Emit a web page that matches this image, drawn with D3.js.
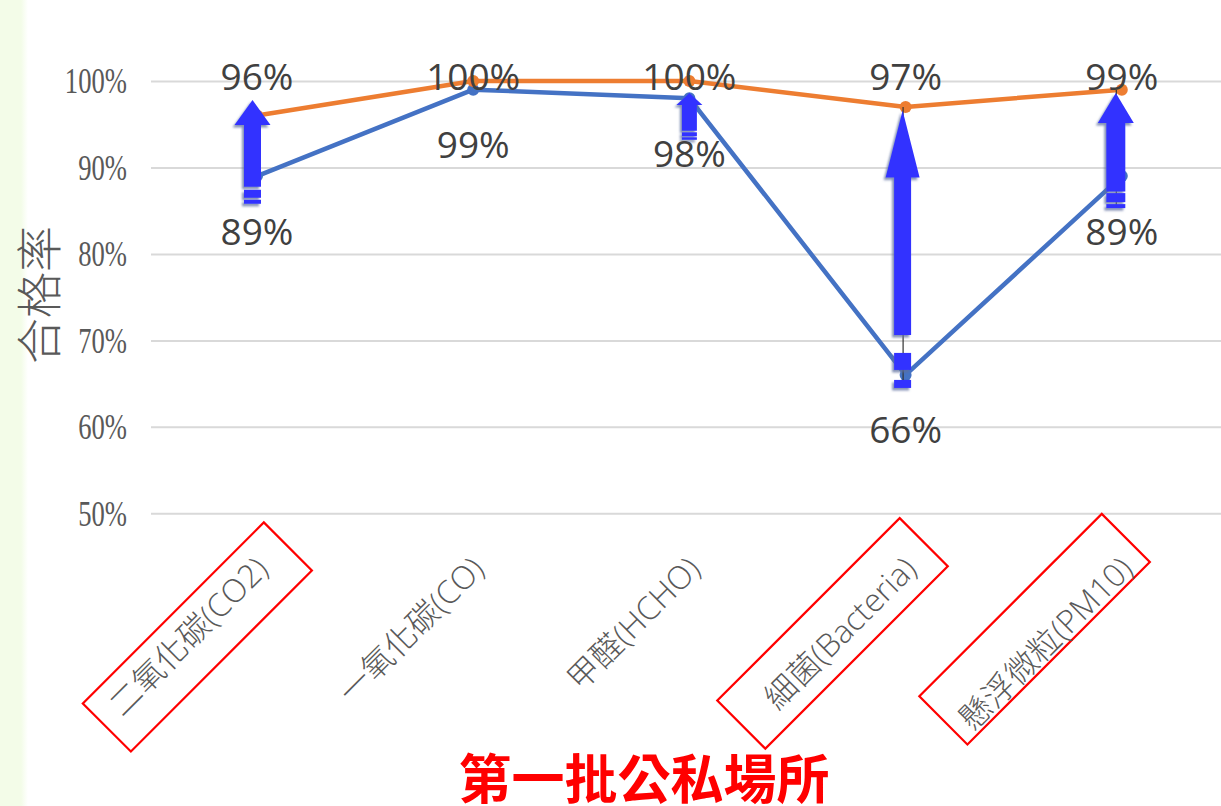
<!DOCTYPE html>
<html>
<head>
<meta charset="utf-8">
<script src="https://cdn.jsdelivr.net/npm/d3@7"></script>
<style>
  html, body { margin: 0; padding: 0; background: #ffffff; }
  svg { display: block; }
</style>
</head>
<body>
<svg id="chart" width="1221" height="806"></svg>
<script>
// ---------- data ----------
const categories = ["二氧化碳(CO2)", "一氧化碳(CO)", "甲醛(HCHO)", "細菌(Bacteria)", "懸浮微粒(PM10)"];
const firstValues  = [0.89, 0.99, 0.98, 0.66, 0.89];   // blue series
const secondValues = [0.96, 1.00, 1.00, 0.97, 0.99];   // orange series
const yTicks = [0.5, 0.6, 0.7, 0.8, 0.9, 1.0];
const highlighted = ["二氧化碳(CO2)", "細菌(Bacteria)", "懸浮微粒(PM10)"];
const yTitle = "合格率";
const chartTitle = "第一批公私場所";

// improvement arrows (value units: tip and tail end)
const arrowCategories = ["二氧化碳(CO2)", "甲醛(HCHO)", "細菌(Bacteria)", "懸浮微粒(PM10)"];
const arrowTip  = [0.978, 0.986, 0.966, 0.986];
const arrowTail = [0.858, 0.932, 0.645, 0.853];

// ---------- styles ----------
const W = 1221, H = 806;
const blue = "#4472c4", orange = "#ed7d31", arrowBlue = "#3333ff";
const arrowStyle = [
  {dx: -4.5, headH: 25, headW: 36, shaftW: 17, tail: [3, 8, 2, 4], guide: false},
  {dx: 0,    headH: 12, headW: 26, shaftW: 15, tail: [1.5, 4, 1, 2.5], guide: false},
  {dx: -3,   headH: 67, headW: 34, shaftW: 17, tail: [18, 17, 10, 8], guide: true},
  {dx: -6,   headH: 30, headW: 36, shaftW: 19, tail: [1.5, 9, 2, 4], guide: true}
];
// red highlight boxes, in the rotated label frame: [start, end, centre offset]
const boxStyle = [[-226, 30, 8], [-234, 24, -4], [-241, 17, -17]];
const boxHeight = 68;

const svg = d3.select("#chart");
const defs = svg.append("defs");

const grad = defs.append("linearGradient").attr("id", "leftStrip")
  .attr("x1", 0).attr("x2", 1).attr("y1", 0).attr("y2", 0);
grad.append("stop").attr("offset", "0%").attr("stop-color", "#f3fce8");
grad.append("stop").attr("offset", "75%").attr("stop-color", "#f3fce8");
grad.append("stop").attr("offset", "100%").attr("stop-color", "#ffffff");

const shadow = defs.append("filter").attr("id", "arrowShadow")
  .attr("x", "-50%").attr("y", "-20%").attr("width", "200%").attr("height", "140%");
shadow.append("feDropShadow").attr("dx", -2).attr("dy", 2.5).attr("stdDeviation", 1.3)
  .attr("flood-color", "#5b6d9e").attr("flood-opacity", 0.75);

svg.append("rect").attr("x", 0).attr("y", 0).attr("width", W).attr("height", H).attr("fill", "#ffffff");
svg.append("rect").attr("x", 0).attr("y", 0).attr("width", 28).attr("height", H).attr("fill", "url(#leftStrip)");

// ---------- scales ----------
const x = d3.scaleBand().domain(categories).range([148.9, 1229.9]).paddingInner(0).paddingOuter(0);
const cx = d => x(d) + x.bandwidth() / 2;
const y = d3.scaleLinear().domain([0.5, 1.0]).range([513.3, 81]);
const gridLeft = 151, gridRight = 1230;

// ---------- grid + y axis ----------
const yAxis = d3.axisLeft(y).tickValues(yTicks).tickFormat(d3.format(".0%")).tickSize(0).tickPadding(0);
const gAxis = svg.append("g").attr("transform", `translate(${gridLeft},0)`).call(yAxis);
gAxis.select(".domain").remove();
gAxis.selectAll(".tick line").remove();
gAxis.selectAll(".tick")
  .insert("line", "text")
  .attr("x1", 0).attr("x2", gridRight - gridLeft)
  .attr("stroke", "#d9d9d9").attr("stroke-width", 2);
gAxis.selectAll(".tick text")
  .attr("x", 0).attr("dy", null)
  .attr("transform", "translate(-24,0) scale(0.74,1)")
  .attr("text-anchor", "end")
  .attr("dominant-baseline", "central")
  .attr("font-family", "'Liberation Serif', 'DejaVu Serif', serif")
  .attr("font-size", 36)
  .attr("fill", "#595959");

// y title
svg.append("text")
  .attr("transform", "translate(36,295) rotate(-90)")
  .attr("text-anchor", "middle").attr("dominant-baseline", "central")
  .attr("font-family", "'Noto Sans CJK TC', 'Noto Sans', sans-serif")
  .attr("font-weight", 300)
  .attr("font-size", 46).attr("fill", "#595959")
  .text(yTitle);

// ---------- x labels ----------
const xl = svg.append("g");
categories.forEach(c => {
  const g = xl.append("g").attr("transform", `translate(${cx(c) + 4},562) rotate(-45)`);
  g.append("text")
    .attr("text-anchor", "end").attr("dominant-baseline", "central")
    .attr("font-family", "'Open Sans', 'Noto Sans CJK TC', sans-serif")
    .attr("font-weight", 300)
    .attr("font-size", 32).attr("fill", "#595959")
    .text(c);
  const hi = highlighted.indexOf(c);
  if (hi >= 0) {
    const [s, e, off] = boxStyle[hi];
    g.insert("rect", "text")
      .attr("x", s).attr("y", off - boxHeight / 2)
      .attr("width", e - s).attr("height", boxHeight)
      .attr("fill", "none").attr("stroke", "#ff0000").attr("stroke-width", 2.2);
  }
});

// ---------- lines ----------
function drawSeries(vals, color) {
  const pts = categories.map((c, i) => [cx(c), y(vals[i])]);
  svg.append("path").attr("d", d3.line()(pts))
    .attr("fill", "none").attr("stroke", color).attr("stroke-width", 4.5)
    .attr("stroke-linejoin", "round").attr("stroke-linecap", "round");
  svg.append("g").selectAll("circle").data(pts).join("circle")
    .attr("cx", d => d[0]).attr("cy", d => d[1]).attr("r", 6).attr("fill", color);
}
drawSeries(firstValues, blue);
drawSeries(secondValues, orange);

// guide lines (thin connectors behind arrows)
arrowCategories.forEach((c, i) => {
  const st = arrowStyle[i];
  if (!st.guide) return;
  const k = categories.indexOf(c);
  svg.append("line")
    .attr("x1", cx(c) + st.dx + 0.5).attr("x2", cx(c) + st.dx + 0.5)
    .attr("y1", y(secondValues[k])).attr("y2", y(arrowTail[i]) - 1)
    .attr("stroke", "#333333").attr("stroke-width", 1.2);
});

// ---------- arrows ----------
const ga = svg.append("g").attr("filter", "url(#arrowShadow)");
arrowCategories.forEach((c, i) => {
  const st = arrowStyle[i];
  const ax = cx(c) + st.dx;
  const tipY = y(arrowTip[i]);
  const endY = y(arrowTail[i]);
  const [g1, b1, g2, b2] = st.tail;
  const shaftBottom = endY - (g1 + b1 + g2 + b2);
  const headBase = tipY + st.headH;
  const hw = st.headW / 2, sw = st.shaftW / 2;
  const p = d3.path();
  p.moveTo(ax, tipY);
  p.lineTo(ax + hw, headBase);
  p.lineTo(ax + sw, headBase);
  p.lineTo(ax + sw, shaftBottom);
  p.lineTo(ax - sw, shaftBottom);
  p.lineTo(ax - sw, headBase);
  p.lineTo(ax - hw, headBase);
  p.closePath();
  ga.append("path").attr("d", p.toString()).attr("fill", arrowBlue);
  ga.append("rect").attr("x", ax - sw).attr("width", st.shaftW)
    .attr("y", shaftBottom + g1).attr("height", b1).attr("fill", arrowBlue);
  ga.append("rect").attr("x", ax - sw).attr("width", st.shaftW)
    .attr("y", shaftBottom + g1 + b1 + g2).attr("height", b2).attr("fill", arrowBlue);
});

// ---------- data labels ----------
const fmt = d3.format(".0%");
const lblFont = "'Open Sans', 'Noto Sans', sans-serif";
svg.append("g").selectAll("text").data(categories).join("text")
  .attr("x", d => cx(d)).attr("y", y(1.0) - 6)
  .attr("text-anchor", "middle").attr("dominant-baseline", "central")
  .attr("font-family", lblFont).attr("font-size", 37).attr("fill", "#404040")
  .text((d, i) => fmt(secondValues[i]));
svg.append("g").selectAll("text").data(categories).join("text")
  .attr("x", d => cx(d)).attr("y", (d, i) => y(firstValues[i]) + 54)
  .attr("text-anchor", "middle").attr("dominant-baseline", "central")
  .attr("font-family", lblFont).attr("font-size", 37).attr("fill", "#404040")
  .text((d, i) => fmt(firstValues[i]));

// ---------- title ----------
svg.append("text")
  .attr("x", 644).attr("y", 776)
  .attr("text-anchor", "middle").attr("dominant-baseline", "central")
  .attr("font-family", "'Noto Sans CJK TC', sans-serif")
  .attr("font-weight", 700).attr("font-size", 53).attr("fill", "#ff0000")
  .text(chartTitle);
</script>
</body>
</html>
